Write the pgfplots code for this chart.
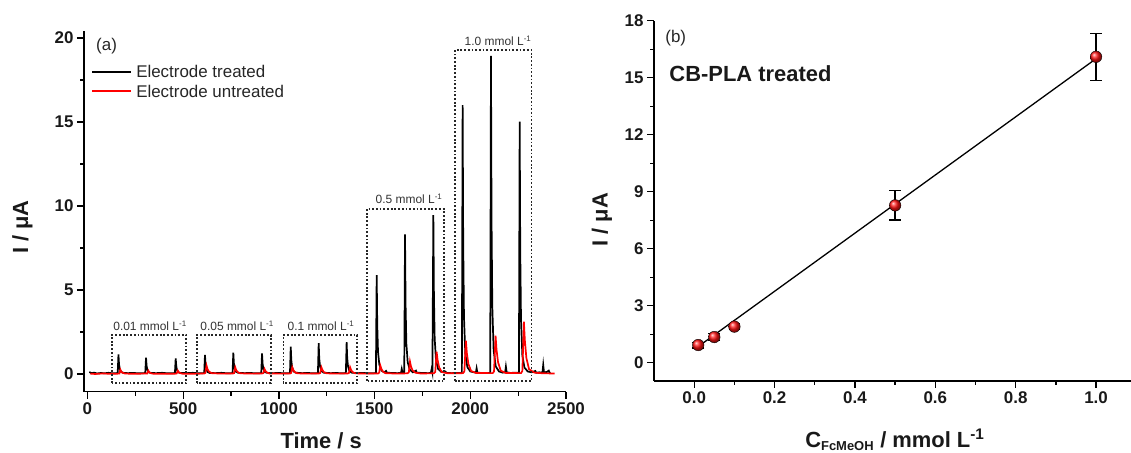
\documentclass[border=0pt]{standalone}
\usepackage{pgfplots}
\pgfplotsset{compat=1.18}
\usepackage{fontspec}
\setmainfont{Liberation Sans}
\begin{document}
\begin{tikzpicture}[x=1bp,y=1bp]
\useasboundingbox (0,0) rectangle (1131,453);
\pgfplotsset{
  myaxis/.style={
    scale only axis, clip=false,
    axis lines=left,
    axis line style={line width=1.4bp,-},
    every tick/.style={line width=1.3bp, black},
    tick align=outside,
    major tick length=7bp, minor tick length=4bp,
    /pgf/number format/assume math mode=true,
    /pgf/number format/1000 sep={},
    ticklabel style={font=\fontsize{17}{20}\selectfont\bfseries, text=black!90},
    label style={font=\fontsize{22}{26}\selectfont\bfseries, text=black!90},
  }
}
% ---------------- left panel ----------------
\begin{axis}[myaxis,
  at={(84bp,61.3bp)}, anchor=south west,
  width=482bp, height=361bp,
  xmin=-18, xmax=2500, ymin=-1.054, ymax=20.43,
  xtick={0,500,1000,1500,2000,2500},
  minor xtick={250,750,1250,1750,2250},
  ytick={0,5,10,15,20},
  minor ytick={2.5,7.5,12.5,17.5},
  xlabel={Time / s}, ylabel={I / μA},
  xlabel style={at={(axis description cs:0.492,-0.137)}, anchor=center},
  ylabel style={at={(axis description cs:-0.128,0.456)}, anchor=center},
]
\addplot[black, line width=1.7bp] table {
10 0.12
20 0.05
35 0.08
50 0.03
70 0.06
90 0.04
110 0.07
130 0.04
150 0.05
158 0.06
162 1.17
165 0.59
169 0.29
176 0.12
187 0.07
210 0.05
240 0.06
270 0.04
295 0.05
302 0.06
306 0.97
309 0.49
313 0.24
320 0.10
331 0.06
360 0.05
390 0.07
420 0.04
450 0.05
457 0.06
461 0.93
464 0.47
468 0.23
475 0.09
486 0.06
520 0.05
550 0.07
580 0.04
604 0.05
610 0.06
614 1.13
617 0.57
621 0.28
628 0.11
639 0.06
670 0.05
700 0.07
730 0.04
752 0.05
758 0.06
762 1.27
765 0.64
769 0.32
776 0.13
787 0.07
820 0.05
850 0.06
880 0.04
902 0.05
908 0.06
912 1.23
915 0.62
919 0.31
926 0.12
937 0.07
970 0.05
1000 0.06
1030 0.04
1052 0.05
1058 0.06
1062 1.63
1065 0.82
1069 0.41
1076 0.16
1087 0.08
1120 0.05
1150 0.06
1180 0.04
1198 0.05
1204 0.06
1208 1.83
1211 0.92
1215 0.46
1222 0.18
1233 0.08
1270 0.05
1300 0.06
1330 0.04
1344 0.05
1350 0.06
1354 1.89
1357 0.95
1361 0.47
1368 0.19
1379 0.08
1410 0.05
1440 0.06
1470 0.04
1500 0.05
1507 0.06
1511 5.89
1514 2.9
1518 1.3
1525 0.55
1536 0.2
1550 0.1
1560 0.18
1565 0.08
1590 0.06
1620 0.05
1638 0.06
1642 0.3
1646 0.08
1655 0.07
1659 8.31
1662 4.1
1666 1.8
1673 0.7
1684 0.25
1700 0.1
1716 0.2
1720 0.08
1750 0.06
1780 0.05
1794 0.06
1798 0.3
1802 0.08
1807 9.46
1810 4.7
1814 2.1
1821 0.8
1832 0.3
1848 0.12
1870 0.15
1875 0.07
1900 0.05
1930 0.06
1956 0.07
1960 16.0
1963 7.8
1967 3.4
1974 1.2
1985 0.4
2000 0.15
2029 0.08
2033 0.34
2037 0.08
2060 0.06
2085 0.05
2104 0.07
2108 18.93
2111 9.2
2115 4.0
2122 1.4
2133 0.45
2150 0.15
2170 0.08
2182 0.1
2186 0.44
2190 0.1
2210 0.06
2235 0.08
2254 0.07
2258 15.02
2261 7.3
2265 3.2
2272 1.1
2283 0.38
2300 0.15
2320 0.1
2340 0.18
2345 0.07
2360 0.1
2377 0.08
2381 0.54
2385 0.1
2400 0.12
2410 0.2
2414 0.06
2420 0.08
};
\addplot[red, line width=1.7bp] table {
15 0.02
40 0.0
80 0.03
120 0.01
160 0.02
167 0.03
172 0.25
176 0.15
182 0.08
195 0.03
230 0.01
280 0.02
312 0.03
318 0.2
322 0.12
328 0.06
340 0.02
400 0.01
460 0.02
466 0.03
472 0.2
476 0.12
482 0.06
495 0.02
560 0.01
610 0.03
616 0.06
622 0.5
627 0.3
634 0.15
648 0.05
700 0.02
760 0.03
766 0.05
772 0.4
777 0.24
784 0.12
798 0.04
860 0.02
912 0.03
919 0.05
925 0.3
930 0.18
937 0.09
951 0.03
1010 0.02
1058 0.03
1064 0.06
1070 0.4
1075 0.25
1082 0.12
1096 0.04
1150 0.02
1210 0.03
1216 0.06
1222 0.4
1227 0.25
1234 0.12
1248 0.04
1300 0.02
1360 0.03
1366 0.06
1372 0.4
1377 0.25
1384 0.12
1398 0.04
1450 0.02
1518 0.03
1524 0.08
1530 0.5
1535 0.32
1542 0.16
1556 0.05
1620 0.02
1672 0.04
1679 0.1
1685 0.73
1690 0.46
1698 0.22
1712 0.08
1740 0.03
1810 0.04
1817 0.12
1824 1.33
1829 0.85
1837 0.4
1851 0.12
1880 0.04
1962 0.05
1969 0.15
1977 1.98
1982 1.25
1990 0.6
2004 0.18
2030 0.06
2117 0.05
2124 0.15
2132 2.28
2137 1.45
2145 0.7
2159 0.2
2185 0.06
2265 0.05
2272 0.18
2280 3.11
2285 2.0
2293 0.95
2307 0.28
2335 0.08
2380 0.04
2440 0.03
};
% legend (drawn by hand)
\draw[black, line width=1.8bp] (axis description cs:0.0166,0.8864) -- (axis description cs:0.0975,0.8864);
\draw[red, line width=1.8bp] (axis description cs:0.0166,0.833) -- (axis description cs:0.0975,0.833);
\node[anchor=west, inner sep=0pt, font=\fontsize{17}{19}\selectfont, text=black!85] at (axis description cs:0.108,0.8864) {Electrode treated};
\node[anchor=west, inner sep=0pt, font=\fontsize{17}{19}\selectfont, text=black!85] at (axis description cs:0.108,0.833) {Electrode untreated};
% dotted boxes
\begin{scope}[line width=1.8bp, dash pattern=on 1.8bp off 1.9bp, black!85]
\draw (axis cs:127,-0.55) rectangle (axis cs:516,2.32);
\draw (axis cs:571,-0.55) rectangle (axis cs:958,2.32);
\draw (axis cs:1024,-0.55) rectangle (axis cs:1410,2.32);
\draw (axis cs:1459,-0.42) rectangle (axis cs:1862,9.82);
\draw (axis cs:1920,-0.42) rectangle (axis cs:2320,19.29);
\end{scope}
\begin{scope}[every node/.style={font=\fontsize{12}{14}\selectfont, text=black!80, inner sep=0pt}]
\node at (axis cs:327,2.86) {0.01 mmol L\textsuperscript{-1}};
\node at (axis cs:782,2.86) {0.05 mmol L\textsuperscript{-1}};
\node at (axis cs:1220,2.86) {0.1 mmol L\textsuperscript{-1}};
\node at (axis cs:1680,10.42) {0.5 mmol L\textsuperscript{-1}};
\node at (axis cs:2145,19.84) {1.0 mmol L\textsuperscript{-1}};
\end{scope}
\node[font=\fontsize{17}{20}\selectfont, text=black!85, inner sep=0pt] at (axis cs:100,19.54) {(a)};
\end{axis}
% ---------------- right panel ----------------
\begin{axis}[myaxis,
  at={(654bp,72bp)}, anchor=south west,
  width=477bp, height=360.3bp,
  xmin=-0.1, xmax=1.087, ymin=-0.963, ymax=18,
  xtick={0,0.2,0.4,0.6,0.8,1.0},
  minor xtick={0.1,0.3,0.5,0.7,0.9},
  ytick={0,3,6,9,12,15,18},
  minor ytick={1.5,4.5,7.5,10.5,13.5,16.5},
  xticklabel style={/pgf/number format/.cd, fixed, fixed zerofill, precision=1},
  xlabel={C\textsubscript{\fontsize{13}{15}\selectfont FcMeOH} / mmol L\textsuperscript{-1}},
  ylabel={I / μA},
  xlabel style={at={(axis description cs:0.505,-0.163)}, anchor=center},
  ylabel style={at={(axis description cs:-0.109,0.447)}, anchor=center},
]
\addplot[black, line width=1.3bp] coordinates {(0.01,0.85) (1.0,16.0)};
\addplot[only marks, mark=ball, mark size=5.8bp, mark options={ball color=red!92!white},
  error bars/.cd, y dir=both, y explicit,
  error bar style={line width=1.3bp, black},
  error mark options={rotate=90, mark size=5.8bp, line width=1.3bp, black}]
  coordinates {
  (0.01,0.93) +- (0,0.15)
  (0.05,1.35) +- (0,0.18)
  (0.1,1.9) +- (0,0.15)
  (0.5,8.28) +- (0,0.77)
  (1.0,16.1) +- (0,1.23)
};
\node[font=\fontsize{17}{20}\selectfont, text=black!85, inner sep=0pt] at (axis cs:-0.046,17.07) {(b)};
\node[font=\fontsize{22}{26}\selectfont\bfseries, text=black!90, inner sep=0pt, anchor=west] at (axis cs:-0.062,15.23) {CB-PLA treated};
\end{axis}
\end{tikzpicture}
\end{document}
